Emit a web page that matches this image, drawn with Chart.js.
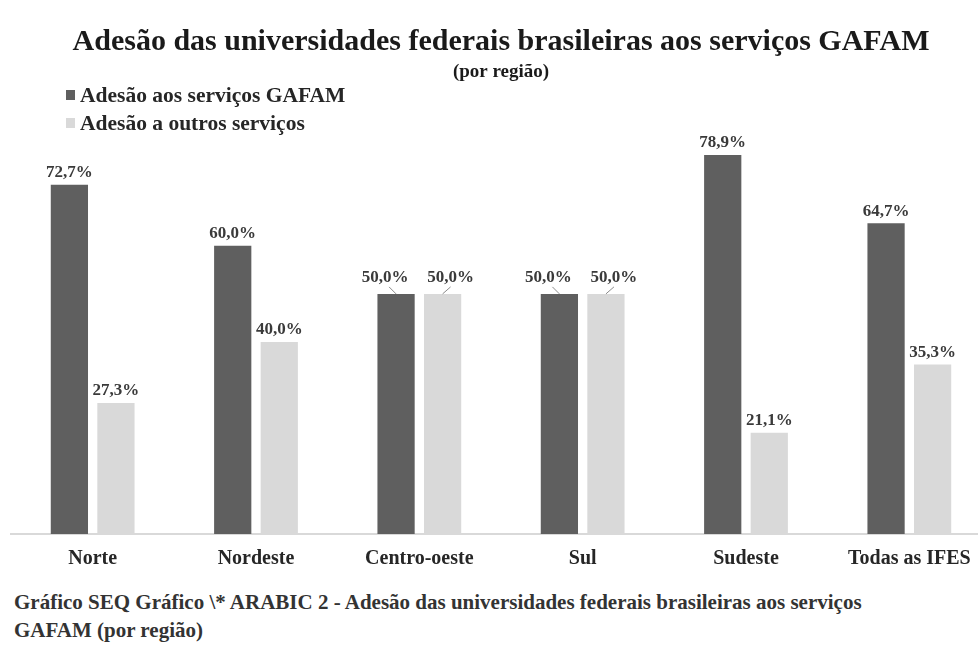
<!DOCTYPE html>
<html>
<head>
<meta charset="utf-8">
<script src="https://cdn.jsdelivr.net/npm/chart.js@4"></script>
<style>
  html, body { margin: 0; background: #fff; overflow: hidden; }
  #wrap { position: relative; width: 992px; height: 587px; }
  #caption {
    position: absolute; left: 14px; top: 588px; width: 870px;
    font-family: "Liberation Serif", serif; font-weight: bold;
    font-size: 21px; line-height: 28px; color: #333;
  }
</style>
</head>
<body>
<div id="wrap"><canvas id="myChart1"></canvas></div>
<div id="caption">Gráfico SEQ Gráfico \* ARABIC 2 - Adesão das universidades federais brasileiras aos serviços GAFAM (por região)</div>
<script>
const regioes = ['Norte', 'Nordeste', 'Centro-oeste', 'Sul', 'Sudeste', 'Todas as IFES'];
const gafam = [72.7, 60.0, 50.0, 50.0, 78.9, 64.7];
const outros = [27.3, 40.0, 50.0, 50.0, 21.1, 35.3];

const serif = '"Liberation Serif", "Times New Roman", serif';

// legend stacked on the left, one item per line
const legendaEmPilha = {
  id: 'legendaEmPilha',
  afterDraw(chart) {
    const c = chart.ctx;
    c.save();
    c.font = 'bold 21.5px ' + serif;
    c.textBaseline = 'middle';
    chart.data.datasets.forEach((ds, i) => {
      const y = 95 + i * 28;
      c.fillStyle = ds.backgroundColor;
      c.fillRect(66, y - 5, 9, 10);
      c.fillStyle = '#262626';
      c.fillText(ds.label, 80, y + 1);
    });
    c.restore();
  }
};

// value labels over each bar
const rotulos = {
  id: 'rotulos',
  afterDatasetsDraw(chart) {
    const c = chart.ctx;
    c.save();
    c.font = 'bold 17px ' + serif;
    c.textAlign = 'center';
    c.textBaseline = 'middle';
    chart.data.datasets.forEach((ds, di) => {
      const meta = chart.getDatasetMeta(di);
      meta.data.forEach((bar, i) => {
        const v = ds.data[i];
        const txt = v.toFixed(1).replace('.', ',') + '%';
        const par = chart.data.datasets[1 - di].data[i];
        let x = bar.x, y = bar.y - 12;
        if (par === v) {
          // labels pushed apart, with a small leader line
          x += di === 0 ? -11 : 8;
          y = bar.y - 16;
          c.strokeStyle = '#8a8a8a';
          c.lineWidth = 1;
          c.beginPath();
          c.moveTo(x + (di === 0 ? 4 : 0), y + 9);
          c.lineTo(bar.x, bar.y);
          c.stroke();
        }
        c.fillStyle = '#3a3a3a';
        c.fillText(txt, x, y);
      });
    });
    c.restore();
  }
};

const ctx1 = document.getElementById('myChart1');

new Chart(ctx1, {
  type: 'bar',
  data: {
    labels: regioes,
    datasets: [{
      label: 'Adesão aos serviços GAFAM',
      data: gafam,
      backgroundColor: '#5f5f5f',
      categoryPercentage: 0.57,
      barPercentage: 0.8
    }, {
      label: 'Adesão a outros serviços',
      data: outros,
      backgroundColor: '#d9d9d9',
      categoryPercentage: 0.57,
      barPercentage: 0.8
    }]
  },
  options: {
    responsive: true,
    maintainAspectRatio: false,
    animation: false,
    layout: { padding: { left: 11, right: 1, top: 0, bottom: 11 } },
    plugins: {
      legend: { display: false },
      tooltip: { enabled: false },
      title: {
        display: true,
        text: 'Adesão das universidades federais brasileiras aos serviços GAFAM',
        color: '#1a1a1a',
        font: { family: serif, size: 30, weight: 'bold' },
        padding: { top: 24, bottom: 1 }
      },
      subtitle: {
        display: true,
        text: '(por região)',
        color: '#1a1a1a',
        font: { family: serif, size: 19, weight: 'bold' },
        padding: { top: 0, bottom: 66 }
      }
    },
    scales: {
      y: {
        display: false,
        min: 0,
        max: 80
      },
      x: {
        grid: { display: false },
        border: { color: '#d9d9d9', width: 2 },
        ticks: {
          color: '#262626',
          font: { family: serif, size: 20, weight: 'bold' },
          padding: 5
        }
      }
    }
  },
  plugins: [legendaEmPilha, rotulos]
});
</script>
</body>
</html>
